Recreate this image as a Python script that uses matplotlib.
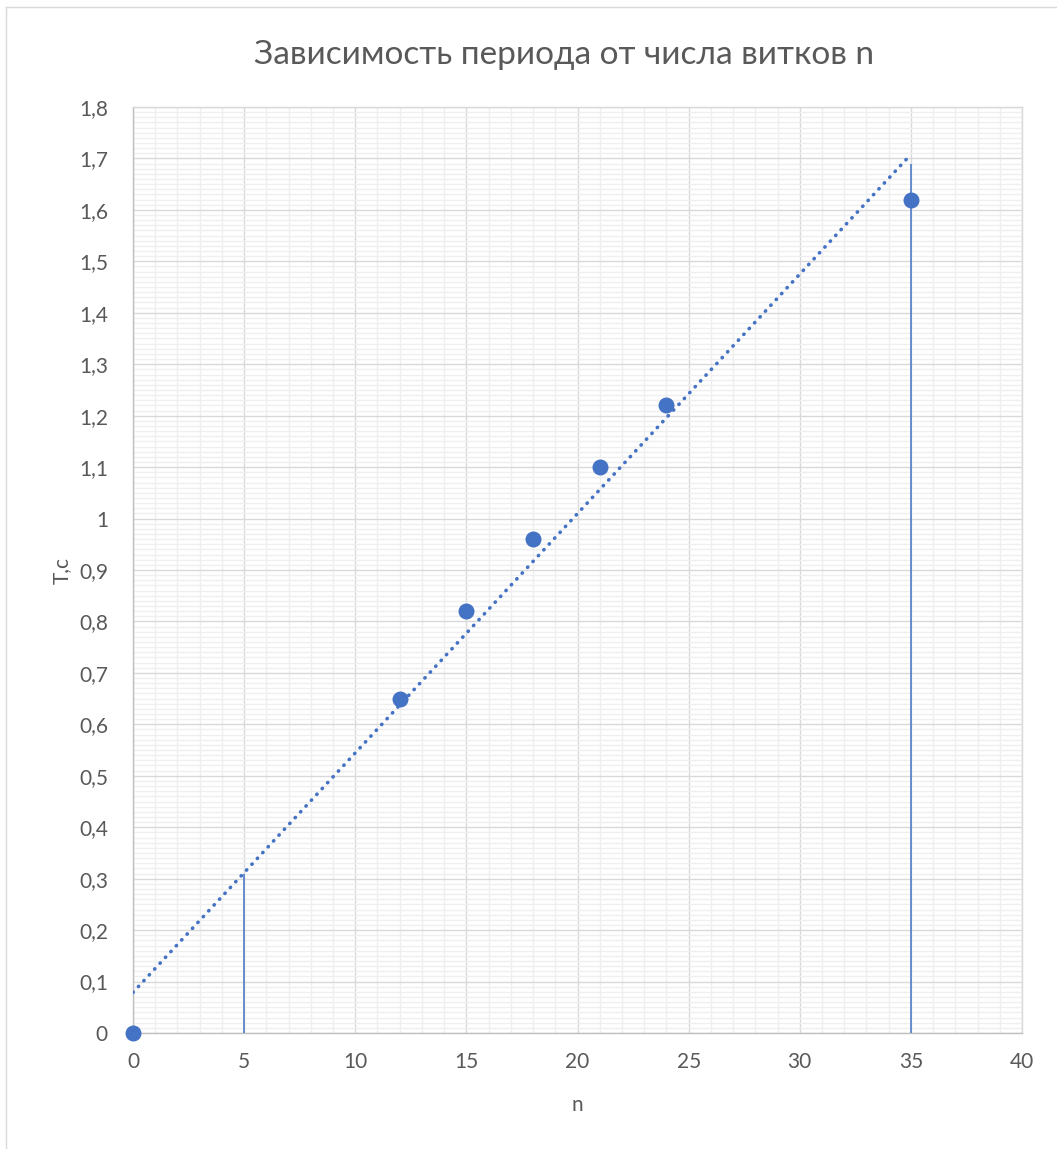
import numpy as np
import matplotlib
matplotlib.use("Agg")
import matplotlib.pyplot as plt
from matplotlib.ticker import MultipleLocator, FuncFormatter
from matplotlib.lines import Line2D

# Measured data: number of turns n and oscillation period T (s)
n_turns = [0, 12, 15, 18, 21, 24, 35]
period = [0, 0.65, 0.82, 0.96, 1.10, 1.22, 1.62]

# Reference verticals drawn up to the trend line
ref_x = [5, 35]
ref_top = [0.31, 1.69]

x_ticks = [0, 5, 10, 15, 20, 25, 30, 35, 40]
y_ticks = [0, 0.1, 0.2, 0.3, 0.4, 0.5, 0.6, 0.7, 0.8, 0.9, 1.0,
           1.1, 1.2, 1.3, 1.4, 1.5, 1.6, 1.7, 1.8]

title = "Зависимость периода от числа витков n"
xlabel = "n"
ylabel = "T,c"

blue = "#4472C4"
text_gray = "#595959"

plt.rcParams["font.family"] = ["Lato", "DejaVu Sans"]

W, H = 1057, 1149
fig = plt.figure(figsize=(W / 100, H / 100), dpi=100)
ax = fig.add_axes([133 / W, 1 - 1033 / H, (1022 - 133) / W, (1033 - 107) / H])

ax.set_xlim(0, 40)
ax.set_ylim(0, 1.8)
ax.set_xticks(x_ticks)
ax.set_yticks(y_ticks)
ax.xaxis.set_minor_locator(MultipleLocator(1))
ax.yaxis.set_minor_locator(MultipleLocator(0.01))

def comma_fmt(v, pos):
    s = f"{v:.1f}".rstrip("0").rstrip(".")
    return s.replace(".", ",")

ax.yaxis.set_major_formatter(FuncFormatter(comma_fmt))
ax.xaxis.set_major_formatter(FuncFormatter(comma_fmt))

ax.grid(which="minor", color="#efefef", linewidth=1.0, zorder=0)
ax.grid(which="major", color="#d9d9d9", linewidth=1.0, zorder=0.5)
ax.set_axisbelow(True)
for sp in ax.spines.values():
    sp.set_color("#d9d9d9")
    sp.set_linewidth(1.0)
ax.spines["bottom"].set_color("#bfbfbf")
ax.spines["left"].set_color("#bfbfbf")

ax.tick_params(which="both", length=0, labelsize=15, colors=text_gray)
ax.tick_params(axis="y", pad=18)
ax.tick_params(axis="x", pad=14)

# Linear trend line over the data range
slope, intercept = np.polyfit(n_turns, period, 1)
tx = np.array([min(n_turns), max(n_turns)])
ax.plot(tx, slope * tx + intercept, color=blue, linewidth=2.6,
        linestyle=(0, (0.1, 2.1)), dash_capstyle="round", zorder=3)

ax.vlines(ref_x, 0, ref_top, color=blue, linewidth=1.1, zorder=3)

ax.plot(n_turns, period, "o", color=blue, markersize=10.5, clip_on=False, zorder=4)

fig.text(564 / W, 1 - 55 / H, title, ha="center", va="center",
         fontsize=24, color=text_gray)
fig.text(577 / W, 1 - 1105 / H, xlabel, ha="center", va="center",
         fontsize=15, color=text_gray)
fig.text(62 / W, 1 - 570 / H, ylabel, ha="center", va="center", rotation=90,
         fontsize=15, color=text_gray)

# Chart-area border
fig.add_artist(Line2D([6 / W, 6 / W], [0, 1 - 7 / H], color="#d9d9d9", linewidth=1, transform=fig.transFigure))
fig.add_artist(Line2D([6 / W, 1], [1 - 7 / H, 1 - 7 / H], color="#d9d9d9", linewidth=1, transform=fig.transFigure))

fig.savefig("out.png", dpi=100)
